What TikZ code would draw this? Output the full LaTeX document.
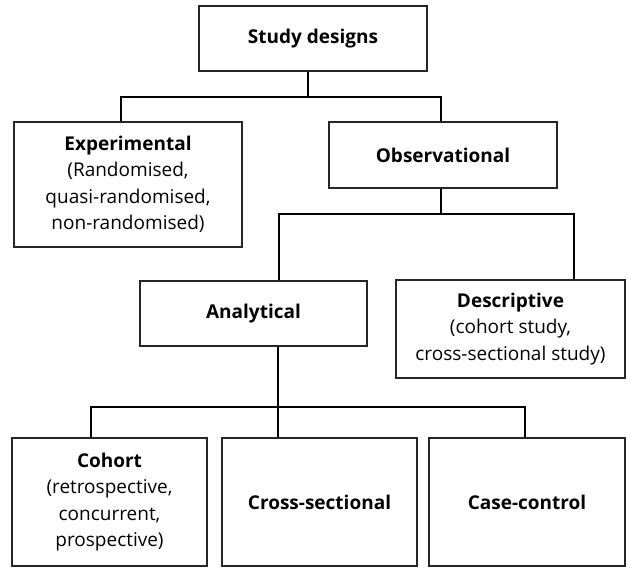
\documentclass[tikz,border=0pt]{standalone}
\usepackage{fontspec}
\setmainfont{Open Sans}
\begin{document}
\begin{tikzpicture}[x=1pt,y=-1pt,
  box/.style={draw=black!85,line width=1.4pt,inner sep=0pt,align=center,
    font=\fontsize{19}{26.5}\selectfont},
  conn/.style={draw=black,line width=2.8pt}]
\useasboundingbox (0,0) rectangle (628,567);
% boxes
\node[box,minimum width=228,minimum height=65] (sd) at (313,38.5) {\textbf{Study designs}};
\node[box,minimum width=228,minimum height=125] (exp) at (128,184.5)
  {\textbf{Experimental}\\(Randomised,\\quasi-randomised,\\non-randomised)};
\node[box,minimum width=228,minimum height=66] (obs) at (443,155) {\textbf{Observational}};
\node[box,minimum width=227,minimum height=65] (ana) at (253.5,313.5) {\textbf{Analytical}};
\node[box,minimum width=229,minimum height=98] (des) at (510.5,329)
  {\textbf{Descriptive}\\(cohort study,\\cross-sectional study)};
\node[box,minimum width=195,minimum height=128] (coh) at (109.5,502)
  {\textbf{Cohort}\\(retrospective,\\concurrent,\\prospective)};
\node[box,minimum width=195,minimum height=128] (cs) at (319.5,502) {\textbf{Cross-sectional}};
\node[box,minimum width=196,minimum height=128] (cc) at (527,502) {\textbf{Case-control}};
% junctions
\coordinate (j1) at (308,97);
\coordinate (j2) at (441,214);
\coordinate (j3) at (278,407);
% level 1
\draw[conn] (sd.south -| j1) -- (j1);
\draw[conn] ([xshift=-7]exp.north) |- (j1) -| ([xshift=-2]obs.north);
% level 2
\draw[conn] ([xshift=-2]obs.south) -- (j2);
\draw[conn] ([xshift=25.5]ana.north) |- (j2) -| ([xshift=63.5]des.north);
% level 3
\draw[conn] ([xshift=24.5]ana.south) -- (j3);
\draw[conn] ([xshift=-18.5]coh.north) |- (j3) -| ([xshift=-2]cc.north);
\draw[conn] ([xshift=-41.5]cs.north) -- (j3);
\end{tikzpicture}
\end{document}
